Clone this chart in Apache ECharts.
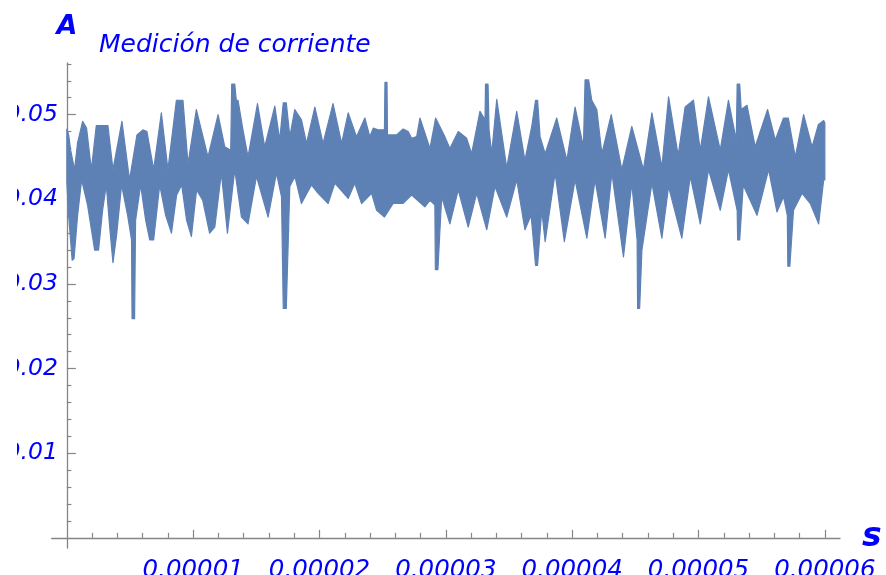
<!DOCTYPE html>
<html>
<head>
<meta charset="utf-8">
<title>Medición de corriente</title>
<script src="https://cdn.jsdelivr.net/npm/echarts@6/dist/echarts.min.js"></script>
<style>
  html, body { margin: 0; padding: 0; background: #ffffff; }
  #chart { width: 886px; height: 575px; }
</style>
</head>
<body>
<div id="chart"></div>
<script>
// Current measurement: upper and lower envelope of the sampled signal.
// Times are in microseconds, currents in amperes.
const upperTimeUs = [
  0, 0.14, 0.30, 0.61, 0.85, 1.25, 1.56, 1.94, 2.33, 3.25,
  3.65, 4.36, 4.96, 5.55, 6.02, 6.34, 6.87, 7.48, 8.00, 8.67,
  9.19, 9.59, 10.25, 11.17, 11.97, 12.50, 12.97, 13.05, 13.29, 13.41,
  13.55, 13.94, 14.34, 15.09, 15.66, 16.46, 16.85, 17.13, 17.37, 17.65,
  18.04, 18.57, 18.97, 19.63, 20.28, 21.07, 21.75, 22.27, 22.93, 23.59,
  23.98, 24.25, 24.64, 25.14, 25.18, 25.34, 25.38, 26.10, 26.62, 27.02,
  27.29, 27.69, 27.95, 28.74, 29.19, 29.92, 30.32, 30.98, 31.65, 32.04,
  32.70, 33.10, 33.14, 33.34, 33.42, 33.63, 34.03, 34.82, 35.61, 36.26,
  36.80, 37.10, 37.26, 37.46, 37.86, 38.78, 39.58, 40.23, 40.89, 41.02,
  41.30, 41.55, 41.95, 42.35, 43.09, 43.93, 44.72, 45.64, 46.31, 47.10,
  47.63, 48.39, 48.94, 49.60, 50.14, 50.79, 51.72, 52.37, 52.99, 53.06,
  53.26, 53.38, 53.84, 54.49, 55.47, 56.08, 56.73, 57.11, 57.66, 58.32,
  58.99, 59.48, 59.91, 60.00
];
const upperAmps = [
  0.0483, 0.0476, 0.0458, 0.0435, 0.0467, 0.0492, 0.0484, 0.0435, 0.0487, 0.0487,
  0.0435, 0.0492, 0.0423, 0.0476, 0.0482, 0.0480, 0.0435, 0.0502, 0.0435, 0.0517,
  0.0517, 0.0442, 0.0506, 0.0450, 0.0500, 0.0462, 0.0458, 0.0536, 0.0536, 0.0517,
  0.0517, 0.0482, 0.0450, 0.0513, 0.0462, 0.0510, 0.0470, 0.0514, 0.0514, 0.0474,
  0.0506, 0.0494, 0.0466, 0.0509, 0.0466, 0.0513, 0.0466, 0.0502, 0.0474, 0.0496,
  0.0474, 0.0484, 0.0482, 0.0482, 0.0538, 0.0538, 0.0476, 0.0476, 0.0483, 0.0480,
  0.0472, 0.0474, 0.0496, 0.0460, 0.0496, 0.0474, 0.0460, 0.0480, 0.0472, 0.0454,
  0.0504, 0.0494, 0.0536, 0.0536, 0.0482, 0.0454, 0.0518, 0.0437, 0.0504, 0.0446,
  0.0486, 0.0517, 0.0517, 0.0474, 0.0454, 0.0496, 0.0446, 0.0509, 0.0462, 0.0541,
  0.0541, 0.0517, 0.0506, 0.0454, 0.0500, 0.0435, 0.0486, 0.0435, 0.0502, 0.0438,
  0.0521, 0.0452, 0.0509, 0.0517, 0.0458, 0.0521, 0.0458, 0.0517, 0.0470, 0.0536,
  0.0536, 0.0506, 0.0511, 0.0462, 0.0506, 0.0470, 0.0496, 0.0496, 0.0450, 0.0500,
  0.0462, 0.0488, 0.0493, 0.0490
];
const lowerTimeUs = [
  0, 0.14, 0.42, 0.57, 0.85, 1.17, 1.64, 2.20, 2.51, 2.83,
  3.12, 3.38, 3.65, 3.94, 4.33, 4.81, 5.12, 5.16, 5.36, 5.44,
  5.84, 6.24, 6.56, 6.87, 7.35, 7.82, 8.28, 8.69, 9.09, 9.48,
  9.86, 10.27, 10.75, 11.30, 11.71, 12.23, 12.71, 13.29, 13.82, 14.34,
  15.01, 15.93, 16.59, 16.99, 17.13, 17.37, 17.65, 18.05, 18.57, 19.36,
  19.89, 20.68, 21.21, 22.27, 22.79, 23.33, 24.12, 24.52, 25.14, 25.83,
  26.60, 27.29, 28.34, 28.74, 29.13, 29.17, 29.37, 29.67, 30.32, 30.98,
  31.77, 32.44, 33.24, 33.89, 34.82, 35.61, 36.26, 36.75, 37.10, 37.26,
  37.59, 37.86, 38.65, 39.38, 40.23, 41.16, 41.81, 42.61, 43.14, 44.06,
  44.72, 45.14, 45.18, 45.34, 45.52, 46.31, 47.10, 47.63, 48.68, 49.35,
  50.14, 50.79, 51.72, 52.37, 53.06, 53.10, 53.26, 53.54, 54.63, 55.55,
  56.21, 56.73, 57.03, 57.07, 57.23, 57.52, 58.20, 58.85, 59.51, 59.91,
  60.00
];
const lowerAmps = [
  0.0419, 0.0381, 0.0328, 0.0330, 0.0381, 0.0423, 0.0393, 0.0340, 0.0340, 0.0387,
  0.0417, 0.0369, 0.0325, 0.0358, 0.0417, 0.0381, 0.0352, 0.0259, 0.0259, 0.0375,
  0.0417, 0.0375, 0.0352, 0.0352, 0.0417, 0.0381, 0.0360, 0.0405, 0.0417, 0.0375,
  0.0356, 0.0411, 0.0399, 0.0360, 0.0367, 0.0431, 0.0360, 0.0435, 0.0379, 0.0371,
  0.0427, 0.0379, 0.0431, 0.0403, 0.0271, 0.0271, 0.0415, 0.0427, 0.0395, 0.0417,
  0.0407, 0.0395, 0.0419, 0.0401, 0.0419, 0.0395, 0.0407, 0.0387, 0.0379, 0.0395,
  0.0395, 0.0405, 0.0391, 0.0399, 0.0393, 0.0317, 0.0317, 0.0403, 0.0371, 0.0411,
  0.0367, 0.0407, 0.0364, 0.0415, 0.0379, 0.0423, 0.0364, 0.0381, 0.0322, 0.0322,
  0.0387, 0.0350, 0.0431, 0.0350, 0.0423, 0.0354, 0.0423, 0.0354, 0.0431, 0.0332,
  0.0419, 0.0352, 0.0271, 0.0271, 0.0340, 0.0419, 0.0354, 0.0415, 0.0354, 0.0427,
  0.0371, 0.0435, 0.0387, 0.0435, 0.0387, 0.0352, 0.0352, 0.0417, 0.0381, 0.0435,
  0.0385, 0.0403, 0.0381, 0.0321, 0.0321, 0.0387, 0.0407, 0.0395, 0.0371, 0.0423,
  0.0423
];

// Axis ticks and their labels
const xTicks = [0.00001, 0.00002, 0.00003, 0.00004, 0.00005, 0.00006];
const xTickLabels = ['0.00001', '0.00002', '0.00003', '0.00004', '0.00005', '0.00006'];
const yTicks = [0.01, 0.02, 0.03, 0.04, 0.05];
const yTickLabels = ['0.01', '0.02', '0.03', '0.04', '0.05'];

const LINE_COLOR = '#5e81b5';
const TEXT_BLUE = '#0000ff';
const AXIS_GREY = '#858585';
const FONT = '"DejaVu Sans", sans-serif';

// Plot area and axis ranges; the axes cross at the origin, which sits
// a little inside the padded plot area.
const GRID = { left: 51.7, right: 46, top: 63, bottom: 27 };
const X_RANGE = [-1.2e-6, 6.12e-5];
const Y_RANGE = [-0.0012, 0.0561];
const gridW = 886 - GRID.left - GRID.right;
const gridH = 575 - GRID.top - GRID.bottom;
const xFrac0 = (0 - X_RANGE[0]) / (X_RANGE[1] - X_RANGE[0]);
const yFrac0 = (0 - Y_RANGE[0]) / (Y_RANGE[1] - Y_RANGE[0]);
// Shift of each axis from its grid edge to the origin line.
const shiftFromLeft = -gridW * xFrac0;
const shiftFromRight = -gridW * (1 - xFrac0);
const shiftFromBottom = -gridH * yFrac0;
const shiftFromTop = -gridH * (1 - yFrac0);

// Closed outline of the signal band: upper envelope left to right,
// then lower envelope right to left (times converted to seconds).
const band = [];
for (let i = 0; i < upperTimeUs.length; i++) band.push([upperTimeUs[i] * 1e-6, upperAmps[i]]);
for (let i = lowerTimeUs.length - 1; i >= 0; i--) band.push([lowerTimeUs[i] * 1e-6, lowerAmps[i]]);

function labelFor(ticks, labels) {
  return function (v) {
    for (let i = 0; i < ticks.length; i++) {
      if (Math.abs(ticks[i] - v) < Math.abs(ticks[i]) * 1e-6) return labels[i];
    }
    return '';
  };
}

const tickStyle = { color: AXIS_GREY, width: 1.2 };

const chart = echarts.init(document.getElementById('chart'), null, { renderer: 'canvas' });

chart.setOption({
  animation: false,
  backgroundColor: '#ffffff',
  title: {
    text: 'Medición de corriente',
    left: 99,
    top: 33,
    padding: 0,
    textStyle: {
      color: TEXT_BLUE, fontFamily: FONT, fontStyle: 'italic',
      fontWeight: 'normal', fontSize: 25
    }
  },
  grid: Object.assign({ containLabel: false, outerBoundsMode: 'none' }, GRID),
  xAxis: [{
    // time axis: line, labels and name
    type: 'value',
    min: X_RANGE[0],
    max: X_RANGE[1],
    position: 'bottom',
    offset: shiftFromBottom,
    name: 's',
    nameLocation: 'end',
    nameGap: 22,
    nameTextStyle: {
      color: TEXT_BLUE, fontFamily: FONT, fontStyle: 'italic',
      fontWeight: 'bold', fontSize: 33
    },
    axisLine: { onZero: false, lineStyle: { color: AXIS_GREY, width: 1.3 } },
    axisTick: { show: false },
    minorTick: { show: false },
    axisLabel: {
      customValues: xTicks,
      formatter: labelFor(xTicks, xTickLabels),
      color: TEXT_BLUE, fontFamily: FONT, fontStyle: 'italic', fontSize: 24.5,
      margin: 20
    },
    splitLine: { show: false }
  }, {
    // time axis tick marks, pointing up from the origin line
    type: 'value',
    min: X_RANGE[0],
    max: X_RANGE[1],
    position: 'top',
    offset: shiftFromTop,
    axisLine: { show: false, onZero: false },
    axisTick: { show: true, inside: false, length: 8, customValues: xTicks, lineStyle: tickStyle },
    minorTick: { show: true, splitNumber: 5, length: 5, lineStyle: tickStyle },
    axisLabel: { show: false },
    splitLine: { show: false }
  }],
  yAxis: [{
    // current axis: line, labels and name
    type: 'value',
    min: Y_RANGE[0],
    max: Y_RANGE[1],
    position: 'left',
    offset: shiftFromLeft,
    name: 'A',
    nameLocation: 'end',
    nameGap: 23,
    nameTextStyle: {
      color: TEXT_BLUE, fontFamily: FONT, fontStyle: 'italic',
      fontWeight: 'bold', fontSize: 27
    },
    axisLine: { onZero: false, lineStyle: { color: AXIS_GREY, width: 1.3 } },
    axisTick: { show: false },
    minorTick: { show: false },
    axisLabel: {
      customValues: yTicks,
      formatter: labelFor(yTicks, yTickLabels),
      color: TEXT_BLUE, fontFamily: FONT, fontStyle: 'italic', fontSize: 23.5,
      margin: 9
    },
    splitLine: { show: false }
  }, {
    // current axis tick marks, pointing right from the origin line
    type: 'value',
    min: Y_RANGE[0],
    max: Y_RANGE[1],
    position: 'right',
    offset: shiftFromRight,
    axisLine: { show: false, onZero: false },
    axisTick: { show: true, inside: false, length: 9, customValues: yTicks, lineStyle: tickStyle },
    minorTick: { show: true, splitNumber: 5, length: 4.5, lineStyle: tickStyle },
    axisLabel: { show: false },
    splitLine: { show: false }
  }],
  graphic: [{
    type: 'rect', left: 0, top: 0, z: 100,
    shape: { width: 17, height: 575 },
    style: { fill: '#ffffff' }
  }],
  series: [{
    type: 'custom',
    xAxisIndex: 0,
    yAxisIndex: 0,
    data: band,
    encode: { x: 0, y: 1 },
    clip: false,
    silent: true,
    renderItem: function (params, api) {
      if (params.dataIndex !== 0) return null;
      const pts = band.map(function (p) { return api.coord(p); });
      return {
        type: 'polygon',
        shape: { points: pts },
        style: { fill: LINE_COLOR, stroke: LINE_COLOR, lineWidth: 1.2, lineJoin: 'round' }
      };
    }
  }]
});
</script>
</body>
</html>
